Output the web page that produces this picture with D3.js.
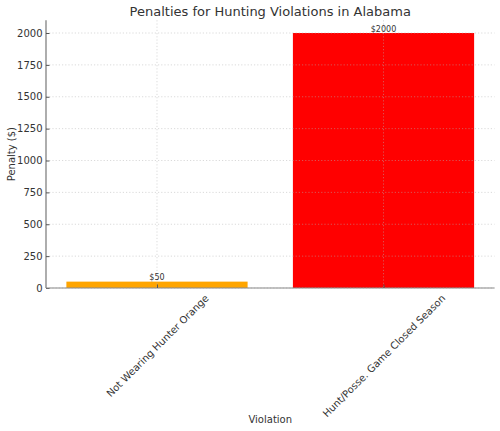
<!DOCTYPE html>
<html>
<head>
<meta charset="utf-8">
<script src="https://d3js.org/d3.v7.min.js"></script>
<style>
  body { margin: 0; background: #fff; }
  text { font-family: "DejaVu Sans", sans-serif; }
</style>
</head>
<body>
<script>
var violations = ["Not Wearing Hunter Orange", "Hunt/Posse. Game Closed Season"];
var penalties = [50, 2000];
var barColors = ["#FFA500", "#FF0000"];
var yTicks = [0, 250, 500, 750, 1000, 1250, 1500, 1750, 2000];

var totalWidth = 500;
var totalHeight = 431;

var margins = { top: 20.25, bottom: 143, left: 46, right: 5.5 };
var plotWidth = totalWidth - margins.left - margins.right;
var plotHeight = totalHeight - margins.top - margins.bottom;

var translation = function(x, y) {
  return "translate(" + x + "," + y + ")";
};

var scaleX = d3.scaleLinear()
  .domain([-0.49, violations.length - 1 + 0.49])
  .range([0, plotWidth]);

var scaleY = d3.scaleLinear()
  .domain([0, 2100])
  .range([plotHeight, 0]);

var barWidth = 0.8;

var svg = d3.select("body").append("svg")
  .attr("width", totalWidth)
  .attr("height", totalHeight);

var g = svg.append("g")
  .attr("transform", translation(margins.left, margins.top));

// bars
g.selectAll("rect.bar")
  .data(penalties)
  .enter().append("rect")
  .attr("class", "bar")
  .attr("x", function(d, i) { return scaleX(i - barWidth / 2); })
  .attr("width", function(d, i) { return scaleX(i + barWidth / 2) - scaleX(i - barWidth / 2); })
  .attr("y", function(d) { return scaleY(d); })
  .attr("height", function(d) { return scaleY(0) - scaleY(d); })
  .attr("fill", function(d, i) { return barColors[i]; });

// grid, drawn over the bars
g.selectAll("line.ygrid")
  .data(yTicks)
  .enter().append("line")
  .attr("x1", 0)
  .attr("x2", plotWidth)
  .attr("y1", function(d) { return scaleY(d); })
  .attr("y2", function(d) { return scaleY(d); })
  .attr("stroke", "#b0b0b0")
  .attr("stroke-opacity", 0.6)
  .attr("stroke-width", 0.8)
  .attr("stroke-dasharray", "1.2,2");

g.selectAll("line.xgrid")
  .data(violations)
  .enter().append("line")
  .attr("x1", function(d, i) { return scaleX(i); })
  .attr("x2", function(d, i) { return scaleX(i); })
  .attr("y1", 0)
  .attr("y2", plotHeight)
  .attr("stroke", "#b0b0b0")
  .attr("stroke-opacity", 0.6)
  .attr("stroke-width", 0.8)
  .attr("stroke-dasharray", "1.2,2");

// value labels
g.selectAll("text.value")
  .data(penalties)
  .enter().append("text")
  .attr("x", function(d, i) { return scaleX(i); })
  .attr("y", function(d) { return scaleY(d) - 1.5; })
  .attr("text-anchor", "middle")
  .attr("font-size", "8px")
  .attr("fill", "#333")
  .text(function(d) { return "$" + d; });

// y axis
var yAxis = g.append("g")
  .call(d3.axisLeft(scaleY).tickValues(yTicks).tickFormat(d3.format("d")).tickSize(-3.5).tickPadding(3.5));
yAxis.select(".domain")
  .attr("d", "M0," + plotHeight + "V0")
  .attr("stroke", "#777")
  .attr("stroke-width", 1.2);
yAxis.selectAll(".tick line").attr("stroke", "#555");
yAxis.selectAll(".tick text")
  .attr("font-size", "10px")
  .attr("fill", "#333")
  .style("font-family", "DejaVu Sans");

// x axis
var xAxis = g.append("g")
  .attr("transform", translation(0, plotHeight))
  .call(d3.axisBottom(scaleX)
    .tickValues(d3.range(violations.length))
    .tickSize(-3.5)
    .tickFormat(function(i) { return violations[i]; }));
xAxis.select(".domain")
  .attr("d", "M0,0H" + plotWidth)
  .attr("stroke", "#888")
  .attr("stroke-width", 1.2);
xAxis.selectAll(".tick line").attr("stroke", "#555");

// rotate labels so their box is centred under the tick
xAxis.selectAll(".tick text")
  .attr("font-size", "10px")
  .attr("fill", "#333")
  .style("font-family", "DejaVu Sans")
  .attr("dy", null)
  .attr("y", 0)
  .attr("text-anchor", "middle")
  .attr("dominant-baseline", "central")
  .each(function() {
    var w = this.getComputedTextLength();
    var boxH = (w + 11) * Math.SQRT1_2;
    d3.select(this).attr("transform", translation(0, 4.5 + boxH / 2) + " rotate(-45)");
  });

// title and axis labels
svg.append("text")
  .attr("x", margins.left + plotWidth / 2)
  .attr("y", 16)
  .attr("text-anchor", "middle")
  .attr("font-size", "13px")
  .attr("fill", "#333")
  .text("Penalties for Hunting Violations in Alabama");

svg.append("text")
  .attr("transform", translation(15, margins.top + plotHeight / 2) + " rotate(-90)")
  .attr("text-anchor", "middle")
  .attr("font-size", "10px")
  .attr("fill", "#333")
  .text("Penalty ($)");

svg.append("text")
  .attr("x", margins.left + plotWidth / 2)
  .attr("y", 423)
  .attr("text-anchor", "middle")
  .attr("font-size", "10px")
  .attr("fill", "#333")
  .text("Violation");
</script>
</body>
</html>
